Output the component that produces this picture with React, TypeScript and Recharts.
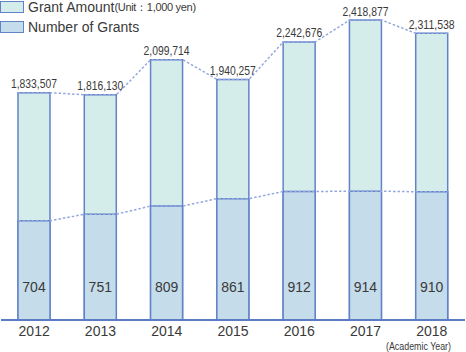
import {
  ComposedChart, Bar, Line, XAxis, YAxis, Legend, LabelList,
} from "recharts";

const years = ["2012", "2013", "2014", "2015", "2016", "2017", "2018"];
const grantAmount = [1833507, 1816130, 2099714, 1940257, 2242676, 2418877, 2311538];
const grantCount = [704, 751, 809, 861, 912, 914, 910];
const unitNote = "(Unit：1,000 yen)";
const yearNote = "(Academic Year)";

const W = 466;
const H = 352;
const MARGIN = { top: 10, right: 1, bottom: 0, left: 1 };
const BAR = 32;
const FONT = "'Liberation Sans', Arial, sans-serif";
const TEXT = "#3a3a3a";
const EDGE_STROKE = "#6383c9";
const AMT_FILL = "#d4ecea";
const NUM_FILL = "#c5dcea";
const LINK = "#93a8df";

const data = years.map((y, i) => ({ year: y, amount: grantAmount[i], count: grantCount[i] }));

// dashed links run from the edge of one bar to the edge of the next
const half = BAR / 2 / ((W - MARGIN.left - MARGIN.right) / years.length);
const edges = years.flatMap((_, i) => [
  { x: i - half, amount: grantAmount[i], count: grantCount[i] },
  { x: i + half, amount: grantAmount[i], count: grantCount[i] },
]);

const AmountLabel = (p: any) => (
  <text x={p.x + p.width / 2} y={p.y - 4.5} textAnchor="middle" fontSize={13.5} fill={TEXT}
    fontFamily={FONT} textLength={46} lengthAdjust="spacingAndGlyphs">
    {Number(p.value).toLocaleString("en-US")}
  </text>
);

const CountLabel = (p: any) => (
  <text x={p.x + p.width / 2} y={p.y + p.height - 33} textAnchor="middle" dominantBaseline="central"
    fontSize={14} fill={TEXT} fontFamily={FONT}>
    {p.value}
  </text>
);

const YearNote = (p: any) => {
  const vb = p.viewBox;
  return (
    <text x={vb.x + vb.width - 14} y={vb.y + vb.height - 2.5} textAnchor="end" fontSize={10.5} fill={TEXT}
      fontFamily={FONT} textLength={65} lengthAdjust="spacingAndGlyphs">
      {yearNote}
    </text>
  );
};

const LegendBox = ({ payload }: any) => (
  <div style={{ fontFamily: FONT, color: TEXT }}>
    {(payload || []).filter((e: any) => e.type !== "none").map((e: any, i: number) => (
      <div key={i} style={{ display: "flex", alignItems: "center", height: 12, marginBottom: 8.5 }}>
        <span style={{
          display: "inline-block", width: 24, height: 12, boxSizing: "border-box",
          border: `1.5px solid ${EDGE_STROKE}`, background: e.color,
        }} />
        <span style={{ marginLeft: 4, fontSize: 14, lineHeight: "12px" }}>{e.value}</span>
        {i === 0 && <span style={{ fontSize: 11, lineHeight: "12px", letterSpacing: -0.3 }}>{unitNote}</span>}
      </div>
    ))}
  </div>
);

export default function App() {
  return (
    <div style={{ position: "absolute", left: 0, top: 0 }}>
      <ComposedChart width={W} height={H} data={data} margin={MARGIN}>
        <XAxis dataKey="year" xAxisId="cat" height={32} tickLine={false} tickSize={0} tickMargin={6}
          tick={{ fill: TEXT, fontSize: 14, fontFamily: FONT }}
          axisLine={{ stroke: "#5b7cc4", strokeWidth: 2 }}
          label={{ content: YearNote }} />
        <XAxis dataKey="year" xAxisId="cat2" hide />
        <XAxis dataKey="x" xAxisId="edge" type="number" domain={[-0.5, years.length - 0.5]}
          allowDataOverflow hide />
        <YAxis yAxisId="amt" domain={[0, 2500000]} hide />
        <YAxis yAxisId="num" domain={[0, 2200]} hide />
        <Legend layout="horizontal" verticalAlign="middle" align="center" content={LegendBox}
          wrapperStyle={{ top: 0.5, left: 0, width: "auto", height: "auto" }} />
        <Line data={edges} xAxisId="edge" yAxisId="amt" dataKey="amount" stroke={LINK} strokeWidth={1.5}
          strokeDasharray="2.5 2" dot={false} legendType="none" isAnimationActive={false} />
        <Line data={edges} xAxisId="edge" yAxisId="num" dataKey="count" stroke={LINK} strokeWidth={1.5}
          strokeDasharray="2.5 2" dot={false} legendType="none" isAnimationActive={false} />
        <Bar dataKey="amount" name="Grant Amount" xAxisId="cat" yAxisId="amt" barSize={BAR}
          fill={AMT_FILL} stroke={EDGE_STROKE} strokeWidth={1.5} isAnimationActive={false}>
          <LabelList dataKey="amount" content={AmountLabel} />
        </Bar>
        <Bar dataKey="count" name="Number of Grants" xAxisId="cat2" yAxisId="num" barSize={BAR}
          fill={NUM_FILL} stroke={EDGE_STROKE} strokeWidth={1.5} isAnimationActive={false}>
          <LabelList dataKey="count" content={CountLabel} />
        </Bar>
      </ComposedChart>
    </div>
  );
}
